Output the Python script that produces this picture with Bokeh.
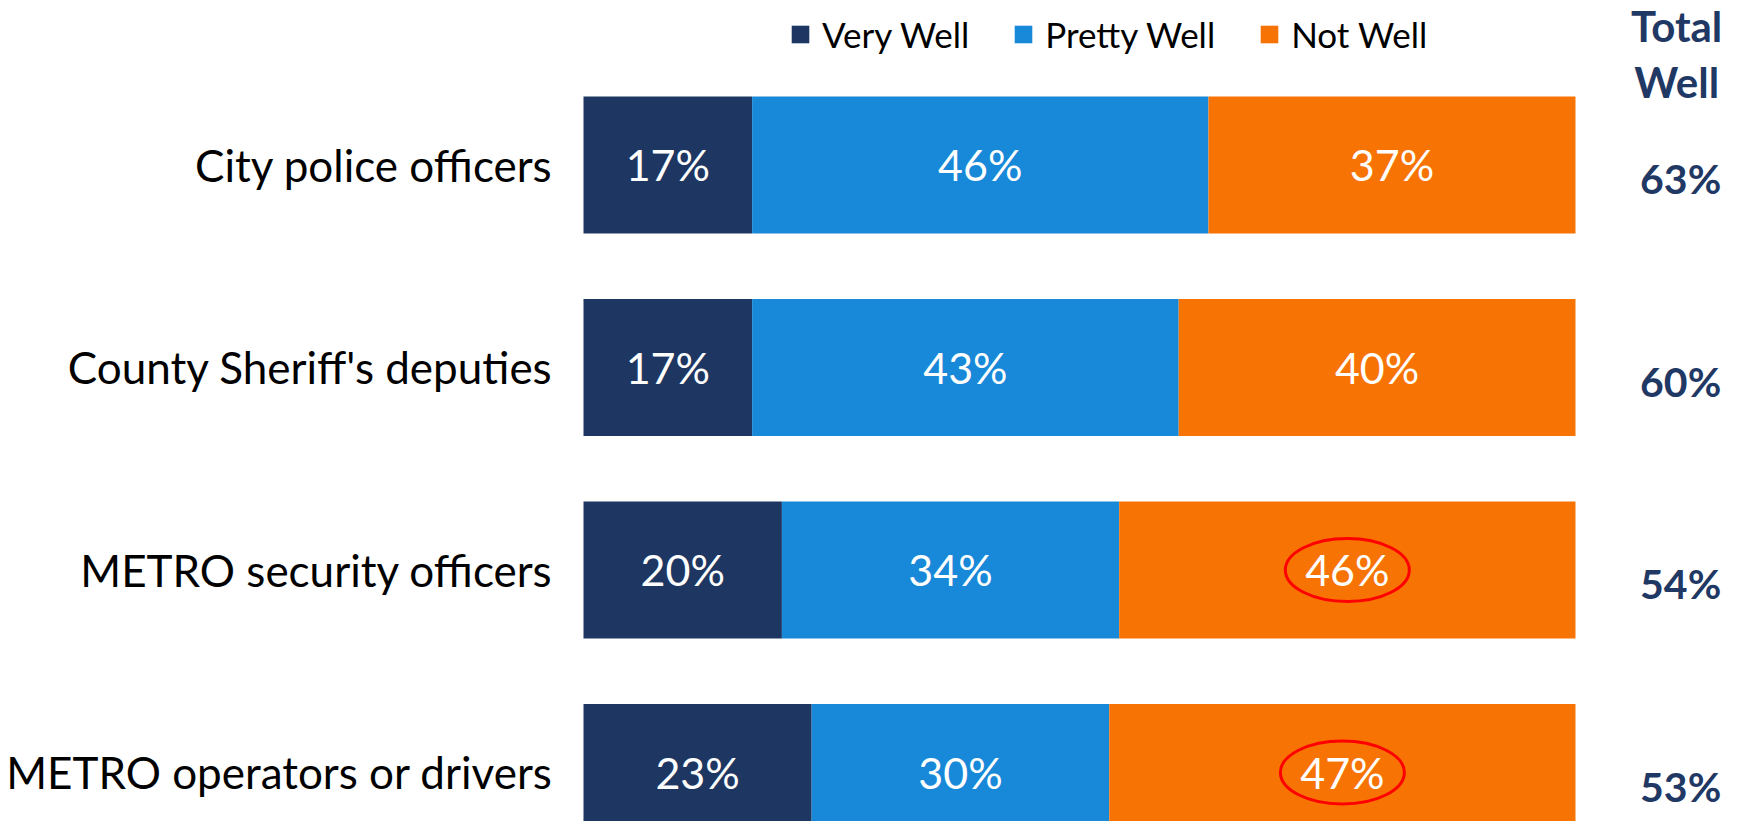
import numpy as np
from bokeh.plotting import figure
from bokeh.models import ColumnDataSource, Range1d, Legend, LegendItem, Label
from bokeh.core.properties import value
from bokeh.embed import file_html
from bokeh.resources import INLINE

# ---------------- data ----------------
categories = ["City police officers", "County Sheriff's deputies",
              "METRO security officers", "METRO operators or drivers"]
very_well = [17, 17, 20, 23]
pretty_well = [46, 43, 34, 30]
not_well = [37, 40, 46, 47]
total_well = [63, 60, 54, 53]
highlight = [False, False, True, True]
series_names = ["Very Well", "Pretty Well", "Not Well"]
colors = ["#1E3762", "#1888D8", "#F77304"]
total_header = ["Total", "Well"]

FONT = "Lato"
W, H = 1723, 821

n = len(categories)
ys = list(range(n))

p = figure(width=W, height=H, output_backend="svg", toolbar_location=None,
           x_axis_location=None, y_axis_location=None,
           x_range=Range1d(-58.77, 114.92), y_range=Range1d(3.242, -0.8123),
           min_border=0, outline_line_color=None, background_fill_color="white",
           border_fill_color="white")
p.xgrid.visible = False
p.ygrid.visible = False

src = ColumnDataSource(dict(y=ys, cat=categories, vw=very_well, pw=pretty_well, nw=not_well))
stack_keys = ["vw", "pw", "nw"]
renderers = p.hbar_stack(stack_keys, y="y", height=0.6765, color=colors, line_color=None, source=src)

# data labels inside segments
lab_x, lab_y, lab_t = [], [], []
for i in range(n):
    left = 0
    for vals in (very_well, pretty_well, not_well):
        v = vals[i]
        lab_x.append(left + v / 2)
        lab_y.append(ys[i])
        lab_t.append(f"{v}%")
        left += v
p.text(x=lab_x, y=lab_y, text=lab_t, text_align="center", text_baseline="middle",
       text_color="white", text_font=value(FONT), text_font_size="43px")

# highlight ellipses around "Not Well" labels
hx = [very_well[i] + pretty_well[i] + not_well[i] / 2 for i in range(n) if highlight[i]]
hy = [ys[i] for i in range(n) if highlight[i]]
p.ellipse(x=hx, y=hy, width=124, height=63, width_units="screen", height_units="screen",
          fill_alpha=0, line_color="#FF0000", line_width=3)

# category labels
p.text(x=[-3.1] * n, y=ys, text=categories, text_align="right", text_baseline="middle",
       text_color="black", text_font=value(FONT), text_font_size="44px")

# totals
p.text(x=[110.6] * n, y=ys, text=[f"{t}%" for t in total_well], text_align="center",
       text_baseline="middle", text_color="#1F3864", text_font=value(FONT),
       text_font_style="bold", text_font_size="41px", y_offset=14)

# header
for txt, sy in zip(total_header, [796, 740]):
    p.add_layout(Label(x=110.2, y=sy, y_units="screen", text=txt, text_align="center",
                       text_baseline="middle", text_color="#1F3864", text_font=FONT,
                       text_font_style="bold", text_font_size="42px"))

legend = Legend(items=[LegendItem(label=nm, renderers=[r]) for nm, r in zip(series_names, renderers)],
                orientation="horizontal", location=(789, 766), glyph_width=22, glyph_height=22,
                label_standoff=11, spacing=43, padding=0, margin=0,
                border_line_alpha=0, background_fill_alpha=0,
                label_text_font=FONT, label_text_font_size="35px", label_text_color="black")
p.add_layout(legend)

open("out.html", "w").write(file_html(p, INLINE))
